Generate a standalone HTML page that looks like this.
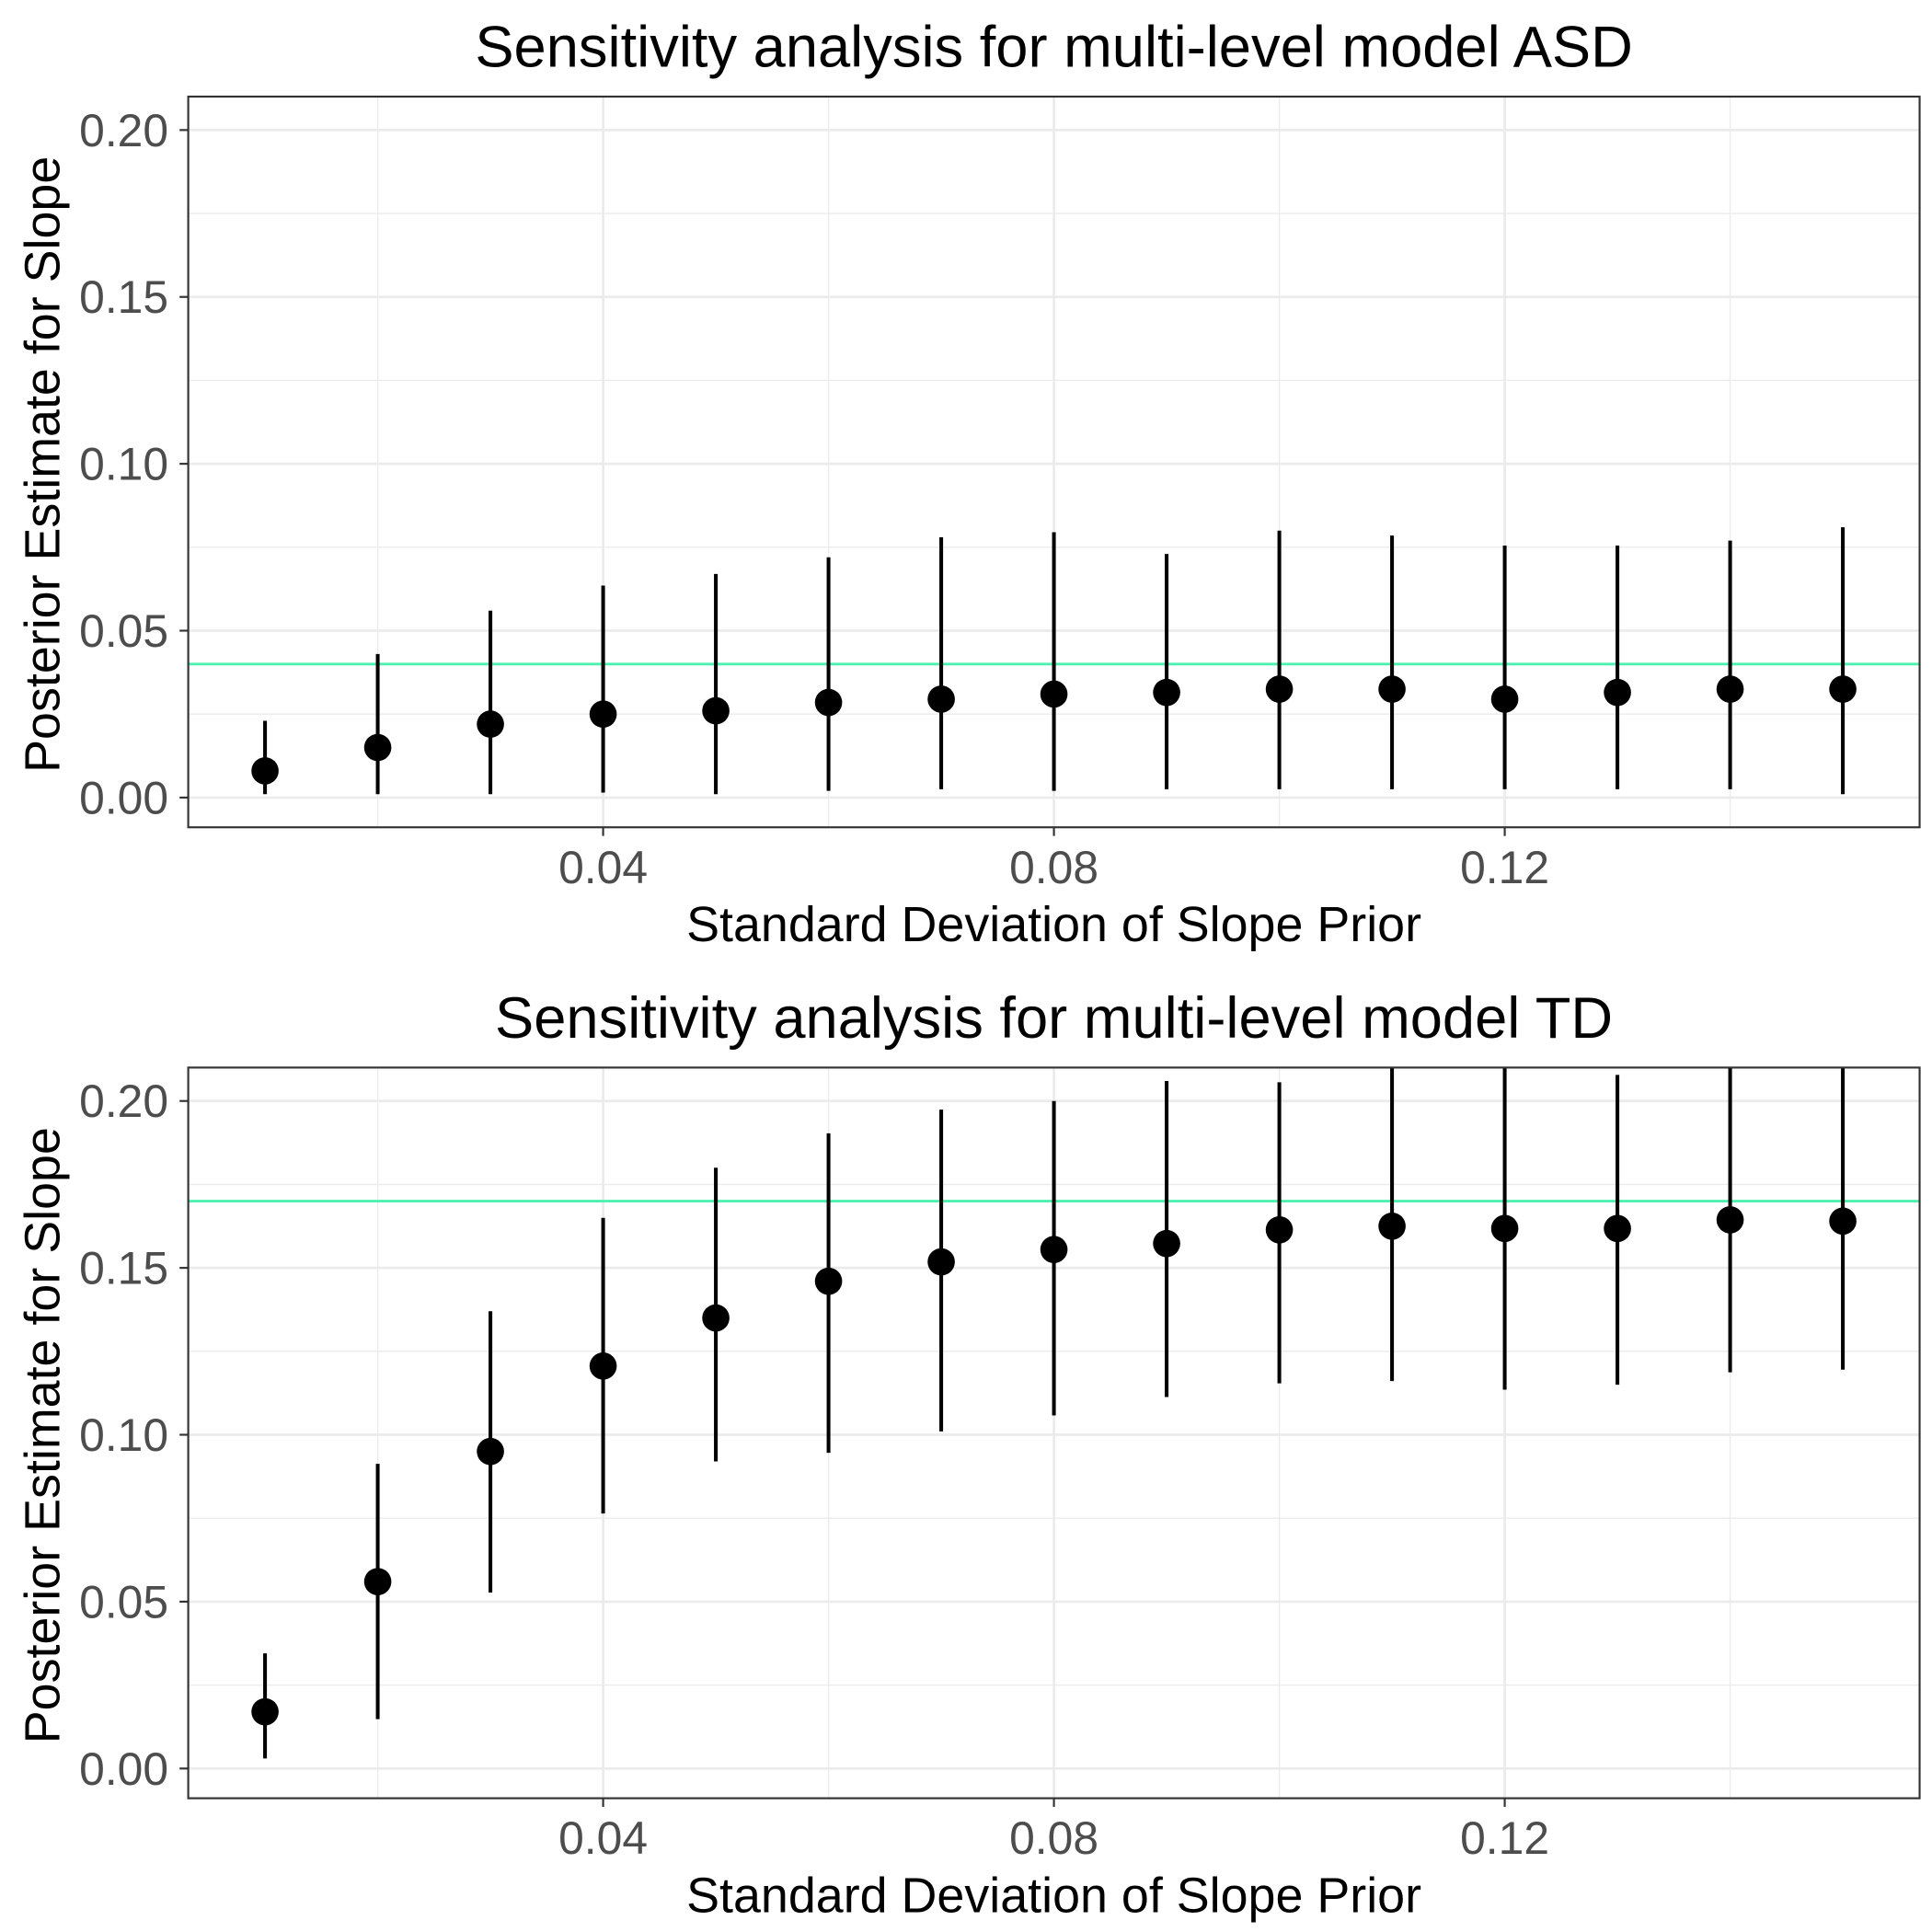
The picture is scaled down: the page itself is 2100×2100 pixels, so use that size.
<!DOCTYPE html>
<html><head><meta charset="utf-8"><style>html,body{margin:0;padding:0;background:#fff}svg{display:block}text{font-family:"Liberation Sans",sans-serif}</style></head>
<body>
<svg id="chart" width="2100" height="2100" viewBox="0 0 1560 1560" xmlns="http://www.w3.org/2000/svg"></svg>
<script>
const xValues=[0.01,0.02,0.03,0.04,0.05,0.06,0.07,0.08,0.09,0.10,0.11,0.12,0.13,0.14,0.15];
const xTicks=[0.04,0.08,0.12];
const xTickLabels=["0.04","0.08","0.12"];
const xMinor=[0.02,0.06,0.10,0.14];
const yTicks=[0,0.05,0.10,0.15,0.20];
const yTickLabels=["0.00","0.05","0.10","0.15","0.20"];
const yMinor=[0.025,0.075,0.125,0.175];
const asdEst=[0.008,0.015,0.022,0.025,0.026,0.0285,0.0295,0.031,0.0315,0.0325,0.0325,0.0295,0.0315,0.0325,0.0325];
const asdLow=[0.001,0.001,0.001,0.0015,0.001,0.002,0.0025,0.002,0.0025,0.0025,0.0025,0.0025,0.0025,0.0025,0.001];
const asdHigh=[0.023,0.043,0.056,0.0635,0.067,0.072,0.078,0.0795,0.073,0.080,0.0785,0.0755,0.0755,0.077,0.081];
const asdRef=0.04;
const tdEst=[0.017,0.056,0.095,0.1206,0.135,0.146,0.1518,0.1555,0.1573,0.1614,0.1625,0.1618,0.1618,0.1644,0.164];
const tdLow=[0.003,0.0148,0.0527,0.0764,0.092,0.0946,0.101,0.1058,0.1113,0.1154,0.1161,0.1135,0.115,0.1187,0.1195];
const tdHigh=[0.0345,0.0913,0.137,0.165,0.18,0.1903,0.1974,0.2,0.206,0.2056,0.215,0.213,0.2078,0.215,0.213];
const tdRef=0.17;

const svg=document.getElementById('chart');
const NS="http://www.w3.org/2000/svg";
function mk(tag,attrs,parent,txt){const e=document.createElementNS(NS,tag);for(const k in attrs)e.setAttribute(k,attrs[k]);if(txt!==undefined)e.textContent=txt;parent.appendChild(e);return e;}

function panel(name,title,top,est,low,high,ref){
  const L=152,R=1550,T=top,B=top+590;
  const y0=top+566,yk=2695;
  const xs=v=>214+(v-0.01)*9100;
  const ys=v=>y0-v*yk;
  const g=mk('g',{},svg);
  
  
  const clipId='clip-'+name;
  const cp=mk('clipPath',{id:clipId},g);mk('rect',{x:L,y:T,width:R-L,height:B-T},cp);
  const grid=mk('g',{},g);
  
  
  yMinor.forEach(v=>mk('line',{x1:L,x2:R,y1:ys(v),y2:ys(v),stroke:'#ebebeb','stroke-width':1},grid));
  xMinor.forEach(v=>mk('line',{x1:xs(v),x2:xs(v),y1:T,y2:B,stroke:'#ebebeb','stroke-width':1},grid));
  yTicks.forEach(v=>mk('line',{x1:L,x2:R,y1:ys(v),y2:ys(v),stroke:'#ebebeb','stroke-width':2},grid));
  xTicks.forEach(v=>mk('line',{x1:xs(v),x2:xs(v),y1:T,y2:B,stroke:'#ebebeb','stroke-width':2},grid));
  const hl=mk('line',{x1:L,x2:R,y1:ys(ref),y2:ys(ref),stroke:'#4ef0b0','stroke-width':2.2},g);
  
  
  const marks=mk('g',{'clip-path':'url(#'+clipId+')'},g);
  xValues.forEach((x,i)=>{
    const l=mk('line',{x1:xs(x),x2:xs(x),y1:ys(low[i]),y2:ys(high[i]),stroke:'#000','stroke-width':3},marks);
    
    
    const c=mk('circle',{cx:xs(x),cy:ys(est[i]),r:11,fill:'#000'},marks);
    
    
  });
  const fr=mk('rect',{x:L,y:T,width:R-L,height:B-T,fill:'none',stroke:'#333','stroke-width':1.6},g);
  
  
  yTicks.forEach((v,i)=>{
    mk('line',{x1:L-7,x2:L,y1:ys(v),y2:ys(v),stroke:'#333','stroke-width':1.6},g);
    const t=mk('text',{x:L-16,y:ys(v)+13,'text-anchor':'end','font-size':37,fill:'#4d4d4d'},g,yTickLabels[i]);
    
    
  });
  xTicks.forEach((v,i)=>{
    mk('line',{x1:xs(v),x2:xs(v),y1:B,y2:B+7,stroke:'#333','stroke-width':1.6},g);
    const t=mk('text',{x:xs(v),y:B+45,'text-anchor':'middle','font-size':37,fill:'#4d4d4d'},g,xTickLabels[i]);
    
    
  });
  const tt=mk('text',{x:851,y:T-24,'text-anchor':'middle','font-size':47,fill:'#000'},g,title);
  
  
  const xt=mk('text',{x:851,y:B+92,'text-anchor':'middle','font-size':40,fill:'#000'},g,'Standard Deviation of Slope Prior');
  
  
  const cy=(T+B)/2+2;
  const yt=mk('text',{x:48,y:cy,'text-anchor':'middle','font-size':40,fill:'#000',transform:'rotate(-90 48 '+cy+')'},g,'Posterior Estimate for Slope');
  
  
}
panel('asd','Sensitivity analysis for multi-level model ASD',78,asdEst,asdLow,asdHigh,asdRef);
panel('td','Sensitivity analysis for multi-level model TD',862,tdEst,tdLow,tdHigh,tdRef);
</script>
</body></html>
